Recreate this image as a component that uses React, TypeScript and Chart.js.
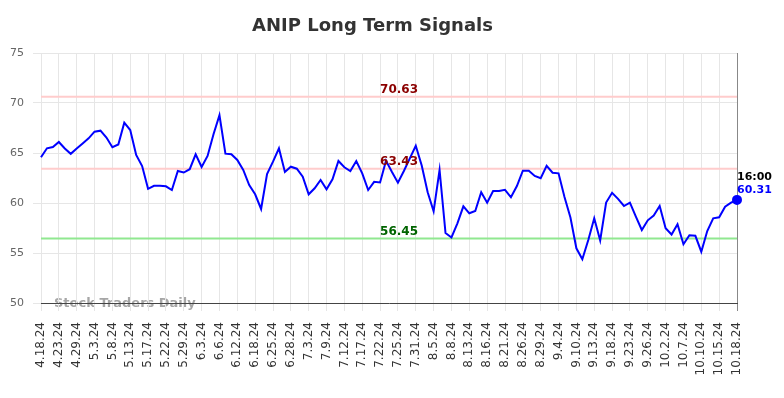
import React, { useEffect, useRef } from 'react';
import { Chart, registerables } from 'chart.js';

Chart.register(...registerables);

const chartTitle = 'ANIP Long Term Signals';
const watermark = 'Stock Traders Daily';
const lastTime = '16:00';

const tickLabels = [
  '4.18.24', '4.23.24', '4.29.24', '5.3.24', '5.8.24', '5.13.24', '5.17.24', '5.22.24',
  '5.29.24', '6.3.24', '6.6.24', '6.12.24', '6.18.24', '6.25.24', '6.28.24', '7.3.24',
  '7.9.24', '7.12.24', '7.17.24', '7.22.24', '7.25.24', '7.31.24', '8.5.24', '8.8.24',
  '8.13.24', '8.16.24', '8.21.24', '8.26.24', '8.29.24', '9.4.24', '9.10.24', '9.13.24',
  '9.18.24', '9.23.24', '9.26.24', '10.2.24', '10.7.24', '10.10.24', '10.15.24', '10.18.24',
];

const pointsPerTick = 3;

const values = [
  64.57, 65.47, 65.6, 66.1, 65.45, 64.92, 65.45, 65.95, 66.47, 67.13,
  67.23, 66.55, 65.58, 65.85, 68.03, 67.3, 64.8, 63.7, 61.42, 61.72,
  61.72, 61.67, 61.3, 63.2, 63.05, 63.38, 64.87, 63.6, 64.7, 66.87,
  68.78, 64.93, 64.87, 64.3, 63.3, 61.8, 60.87, 59.4, 62.9, 64.13,
  65.47, 63.1, 63.63, 63.43, 62.63, 60.87, 61.47, 62.3, 61.37, 62.37,
  64.2, 63.57, 63.2, 64.2, 62.97, 61.3, 62.12, 62.05, 64.23, 63.1,
  62.03, 63.2, 64.47, 65.72, 63.75, 61.07, 59.17, 63.3, 57.0, 56.55,
  57.97, 59.67, 58.97, 59.2, 61.07, 60.03, 61.2, 61.2, 61.32, 60.57,
  61.7, 63.23, 63.23, 62.7, 62.47, 63.72, 63.03, 62.97, 60.6, 58.55,
  55.47, 54.37, 56.3, 58.47, 56.25, 60.05, 61.02, 60.42, 59.7, 60.03,
  58.63, 57.3, 58.27, 58.75, 59.7, 57.47, 56.85, 57.87, 55.88, 56.78,
  56.72, 55.13, 57.2, 58.47, 58.57, 59.63, 60.03, 60.31,
];

const levels = [70.63, 63.43, 56.45];
const levelLabelDate = '7.22.24';

const yMin = 50;
const yMax = 75;
const yStep = 5;

const FONT = 'DejaVu Sans';

export default function App() {
  const canvasRef = useRef<HTMLCanvasElement | null>(null);

  useEffect(() => {
    if (!canvasRef.current) return;

    const labels = values.map((_, i) =>
      i % pointsPerTick === 0 ? tickLabels[i / pointsPerTick] : ''
    );
    const lastIndex = values.length - 1;

    const overlay = {
      id: 'overlay',
      beforeDraw(chart: any) {
        const { ctx, chartArea } = chart;
        ctx.save();
        ctx.font = `bold 13px "${FONT}"`;
        ctx.fillStyle = 'rgba(150,150,150,0.85)';
        ctx.textAlign = 'left';
        ctx.textBaseline = 'alphabetic';
        ctx.fillText(watermark, chartArea.left + 13, chartArea.bottom + 4);
        ctx.restore();
      },
      beforeDatasetsDraw(chart: any) {
        const { ctx, chartArea, scales } = chart;
        const y = scales.y;
        ctx.save();
        levels.forEach((lv, k) => {
          const py = y.getPixelForValue(lv);
          ctx.strokeStyle = k === levels.length - 1 ? '#90e890' : '#ffcccc';
          ctx.lineWidth = 2;
          ctx.beginPath();
          ctx.moveTo(chartArea.left, py);
          ctx.lineTo(chartArea.right, py);
          ctx.stroke();
        });
        ctx.restore();
      },
      afterDatasetsDraw(chart: any) {
        const { ctx, scales } = chart;
        const x = scales.x;
        const y = scales.y;
        ctx.save();
        const lx = x.getPixelForValue(labels.indexOf(levelLabelDate));
        ctx.font = `bold 12px "${FONT}"`;
        ctx.textAlign = 'left';
        ctx.textBaseline = 'alphabetic';
        levels.forEach((lv, k) => {
          const py = y.getPixelForValue(lv);
          ctx.fillStyle = k === levels.length - 1 ? '#006400' : '#8b0000';
          ctx.fillText(lv.toFixed(2), lx, py - 4);
        });
        const px = x.getPixelForValue(lastIndex);
        const py = y.getPixelForValue(values[lastIndex]);
        ctx.font = `bold 11px "${FONT}"`;
        ctx.fillStyle = '#000000';
        ctx.fillText(lastTime, px, py - 20);
        ctx.fillStyle = '#0000ff';
        ctx.fillText(values[lastIndex].toFixed(2), px, py - 7);
        ctx.restore();
      },
    };

    const chart = new Chart(canvasRef.current, {
      type: 'line',
      data: {
        labels,
        datasets: [
          {
            data: values,
            borderColor: '#0000ff',
            backgroundColor: '#0000ff',
            borderWidth: 2,
            tension: 0,
            fill: false,
            pointRadius: (ctx: any) => (ctx.dataIndex === lastIndex ? 4 : 0),
            pointHoverRadius: 0,
            pointBackgroundColor: '#0000ff',
            pointBorderColor: '#0000ff',
          },
        ],
      },
      options: {
        animation: false,
        responsive: true,
        maintainAspectRatio: false,
        layout: { padding: { left: 0, right: 39, top: 0, bottom: 0 } },
        plugins: {
          legend: { display: false },
          tooltip: { enabled: false },
          title: {
            display: true,
            text: chartTitle,
            color: '#333333',
            font: { family: FONT, size: 18, weight: 'bold' },
            padding: { top: 8, bottom: 15.4 },
          },
        },
        scales: {
          x: {
            type: 'category',
            grid: {
              color: (ctx: any) =>
                ctx.tick && ctx.tick.label === tickLabels[tickLabels.length - 1] ? '#888888' : '#e6e6e6',
              lineWidth: 1,
              tickLength: 8,
            },
            border: { display: true, color: '#444444', width: 1 },
            ticks: {
              autoSkip: false,
              minRotation: 90,
              maxRotation: 90,
              padding: 11,
              color: '#333333',
              font: { family: FONT, size: 12 },
              callback: (_v: any, idx: number) => (labels[idx] ? labels[idx] : null),
            },
            afterFit: (scale: any) => {
              scale.height = 87;
            },
          },
          y: {
            min: yMin,
            max: yMax,
            grid: { color: '#e6e6e6', lineWidth: 1, tickLength: 8 },
            border: { display: false },
            ticks: {
              stepSize: yStep,
              padding: 9,
              color: '#666666',
              font: { family: FONT, size: 11 },
            },
            afterFit: (scale: any) => {
              scale.width = 33;
            },
          },
        },
      },
      plugins: [overlay],
    });

    return () => chart.destroy();
  }, []);

  return (
    <div style={{ width: 768, height: 382, position: 'relative' }}>
      <canvas ref={canvasRef} />
    </div>
  );
}
